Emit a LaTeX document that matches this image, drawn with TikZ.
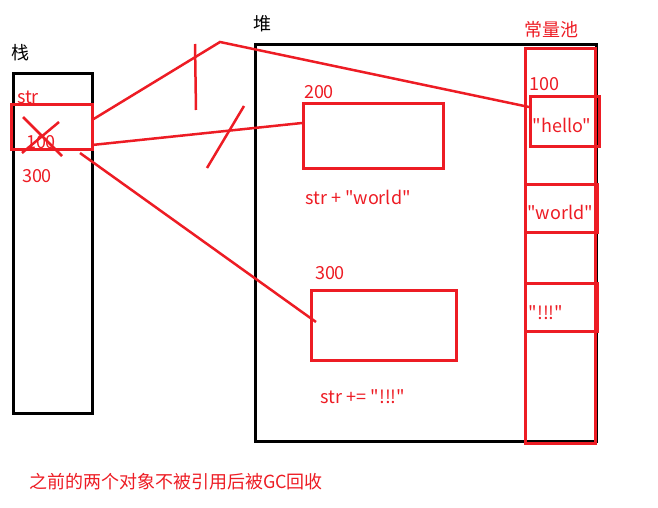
\documentclass[tikz,border=0pt]{standalone}
\usepackage{fontspec}
\setmainfont{Noto Sans CJK SC}[Ligatures=TeXOff]
\definecolor{pred}{HTML}{ED1C24}
\begin{document}
\begin{tikzpicture}[x=1pt,y=-1pt,
  blk/.style={draw=black,line width=3pt},
  rbox/.style={draw=pred,line width=3pt},
  rline/.style={draw=pred,line width=2.5pt},
  rtxt/.style={text=pred,font=\fontsize{18}{21}\selectfont,inner sep=0pt},
  ktxt/.style={text=black,font=\fontsize{18}{21}\selectfont,inner sep=0pt}]
\useasboundingbox (0,0) rectangle (658,508);
% stack
\node[blk,minimum width=79pt,minimum height=339pt,inner sep=0pt] (stack) at (52.5,243.5) {};
\node[ktxt] (stacklbl) at (21,53) {栈};
\node[rtxt] (str) at (28,97) {str};
\node[rbox,minimum width=81pt,minimum height=44pt,inner sep=0pt] (ref) at (51.5,127) {};
\node[rtxt] (v100) at (41,142) {100};
\node[rtxt] (v300) at (37,176) {300};
\coordinate (c1) at (23,117); \coordinate (c2) at (62,156);
\coordinate (c3) at (22,153); \coordinate (c4) at (59,122);
\draw[rline] (c1) -- (c2);
\draw[rline] (c3) -- (c4);
% heap
\node[blk,minimum width=341pt,minimum height=396pt,inner sep=0pt] (heap) at (425.5,243) {};
\node[ktxt] (heaplbl) at (262,24) {堆};
\node[rtxt] (h200) at (319,92) {200};
\node[rbox,minimum width=140pt,minimum height=64pt,inner sep=0pt] (obj200) at (373,136) {};
\node[rtxt] (e1) at (358,197) {str + "world"};
\node[rtxt] (h300) at (330,273) {300};
\node[rbox,minimum width=145pt,minimum height=70pt,inner sep=0pt] (obj300) at (383.5,325) {};
\node[rtxt] (e2) at (363,397) {str += "!!!"};
% constant pool
\node[rbox,minimum width=70pt,minimum height=394pt,inner sep=0pt] (pool) at (560,246) {};
\node[rtxt] (poollbl) at (551,30) {常量池};
\node[rtxt] (p100) at (544,84) {100};
\node[rbox,minimum width=69pt,minimum height=49pt,inner sep=0pt] (hello) at (564.5,121.5) {};
\node[rtxt] (hellot) at (562,125) {"hello"};
\node[rbox,minimum width=72pt,minimum height=48pt,inner sep=0pt] (world) at (561,208) {};
\node[rtxt] (worldt) at (560,212) {"world"};
\node[rbox,minimum width=72pt,minimum height=48pt,inner sep=0pt] (bang) at (561,307) {};
\node[rtxt] (bangt) at (546,313) {"!!!"};
% connectors
\coordinate (a1) at (92,120);
\coordinate (peak) at (220,42);
\coordinate (a2) at (529,107);
\draw[rline] (a1) -- (peak) -- (a2);
\coordinate (s1) at (195,44); \coordinate (s2) at (196,110);
\draw[rline] (s1) -- (s2);
\coordinate (b1) at (92,145);
\coordinate (b2) at (302,123);
\draw[rline] (b1) -- (b2);
\coordinate (t1) at (207,168); \coordinate (t2) at (244,106);
\draw[rline] (t1) -- (t2);
\coordinate (d1) at (80,153);
\coordinate (d2) at (316,322);
\draw[rline] (d1) -- (d2);
% note
\node[rtxt] (note) at (176,482) {之前的两个对象不被引用后被GC回收};
\end{tikzpicture}
\end{document}
